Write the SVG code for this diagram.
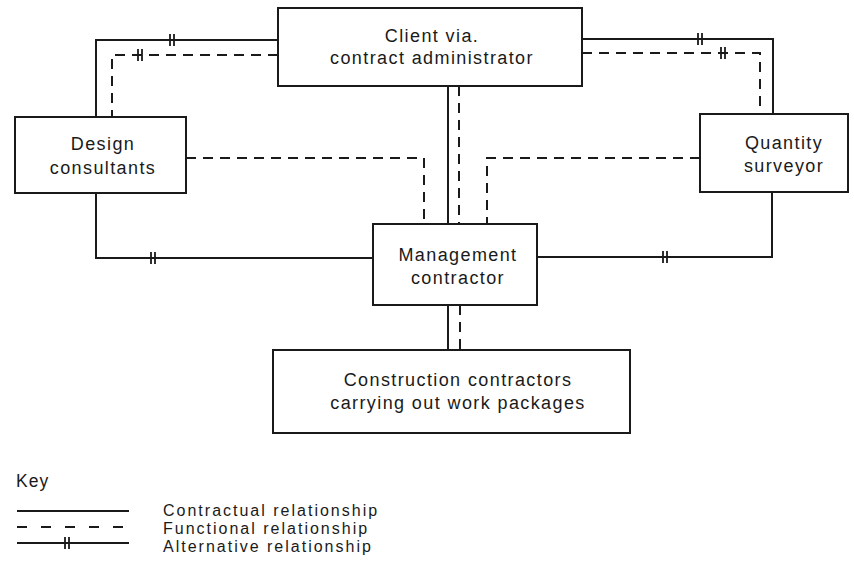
<svg xmlns="http://www.w3.org/2000/svg" width="854" height="571" viewBox="0 0 854 571">
  <style>
    .box { fill: #ffffff; stroke: #1a1a1a; stroke-width: 2; }
    .lbl { font-family: "Liberation Sans", Arial, sans-serif; font-size: 18px; letter-spacing: 1.4px; fill: #1a1a1a; text-anchor: middle; }
    .key { font-family: "Liberation Sans", Arial, sans-serif; font-size: 16px; letter-spacing: 2px; fill: #1a1a1a; }
    .keyhead { font-family: "Liberation Sans", Arial, sans-serif; font-size: 17.5px; letter-spacing: 1px; fill: #1a1a1a; }
    .solid { fill: none; stroke: #1a1a1a; stroke-width: 2; }
    .dash { fill: none; stroke: #1a1a1a; stroke-width: 2; stroke-dasharray: 10 7; }
    .tick { fill: none; stroke: #1a1a1a; stroke-width: 1.8; }
  </style>
  <rect width="854" height="571" fill="#ffffff"/>

  <!-- connectors -->
  <g id="connectors">
    <!-- client to design consultants -->
    <polyline class="solid" points="278,40 96,40 96,117"/>
    <polyline class="dash" points="278,55 112,55 112,117"/>
    <!-- client to quantity surveyor -->
    <polyline class="solid" points="582,39 773,39 773,114"/>
    <polyline class="dash" points="582,53 760,53 760,114"/>
    <!-- client to management contractor -->
    <line class="solid" x1="448" y1="86" x2="448" y2="224"/>
    <line class="dash" x1="459" y1="86" x2="459" y2="224"/>
    <!-- design consultants / quantity surveyor to management contractor (functional) -->
    <polyline class="dash" points="186,158 424,158 424,224"/>
    <polyline class="dash" points="700,158 487,158 487,224"/>
    <!-- design consultants / quantity surveyor to management contractor (alternative) -->
    <polyline class="solid" points="96,193 96,258 373,258"/>
    <polyline class="solid" points="772,192 772,257 537,257"/>
    <!-- management contractor to construction contractors -->
    <line class="solid" x1="448" y1="305" x2="448" y2="350"/>
    <line class="dash" x1="460" y1="305" x2="460" y2="350"/>

    <!-- alternative-relationship ticks -->
    <g class="tick">
      <path d="M170,34 V46 M174,34 V46"/>
      <path d="M138,49 V61 M142,49 V61"/>
      <path d="M698,33 V45 M702,33 V45"/>
      <path d="M721,47 V59 M725,47 V59"/>
      <path d="M151,252 V264 M155,252 V264"/>
      <path d="M663,251 V263 M667,251 V263"/>
    </g>
  </g>

  <g id="client">
    <rect class="box" x="278" y="8" width="304" height="78"/>
    <text class="lbl" x="432" y="42">Client via.</text>
    <text class="lbl" x="432" y="64">contract administrator</text>
  </g>

  <g id="design">
    <rect class="box" x="15" y="117" width="171" height="76"/>
    <text class="lbl" x="103" y="150">Design</text>
    <text class="lbl" x="103" y="174">consultants</text>
  </g>

  <g id="qs">
    <rect class="box" x="700" y="114" width="148" height="78"/>
    <text class="lbl" x="784" y="149">Quantity</text>
    <text class="lbl" x="784" y="172">surveyor</text>
  </g>

  <g id="management">
    <rect class="box" x="373" y="224" width="164" height="81"/>
    <text class="lbl" x="458" y="261">Management</text>
    <text class="lbl" x="458" y="284">contractor</text>
  </g>

  <g id="construction">
    <rect class="box" x="273" y="350" width="357" height="83"/>
    <text class="lbl" x="458" y="386">Construction contractors</text>
    <text class="lbl" x="458" y="409">carrying out work packages</text>
  </g>

  <g id="key">
    <text class="keyhead" x="16" y="487">Key</text>
    <line class="solid" x1="17" y1="511" x2="129" y2="511"/>
    <line class="solid" x1="17" y1="527" x2="129" y2="527" stroke-dasharray="10 14"/>
    <line class="solid" x1="17" y1="543" x2="129" y2="543"/>
    <path class="tick" d="M65,537 V549 M69,537 V549"/>
    <text class="key" x="163" y="515.5">Contractual relationship</text>
    <text class="key" x="163" y="533.5">Functional relationship</text>
    <text class="key" x="163" y="551.5">Alternative relationship</text>
  </g>
</svg>
